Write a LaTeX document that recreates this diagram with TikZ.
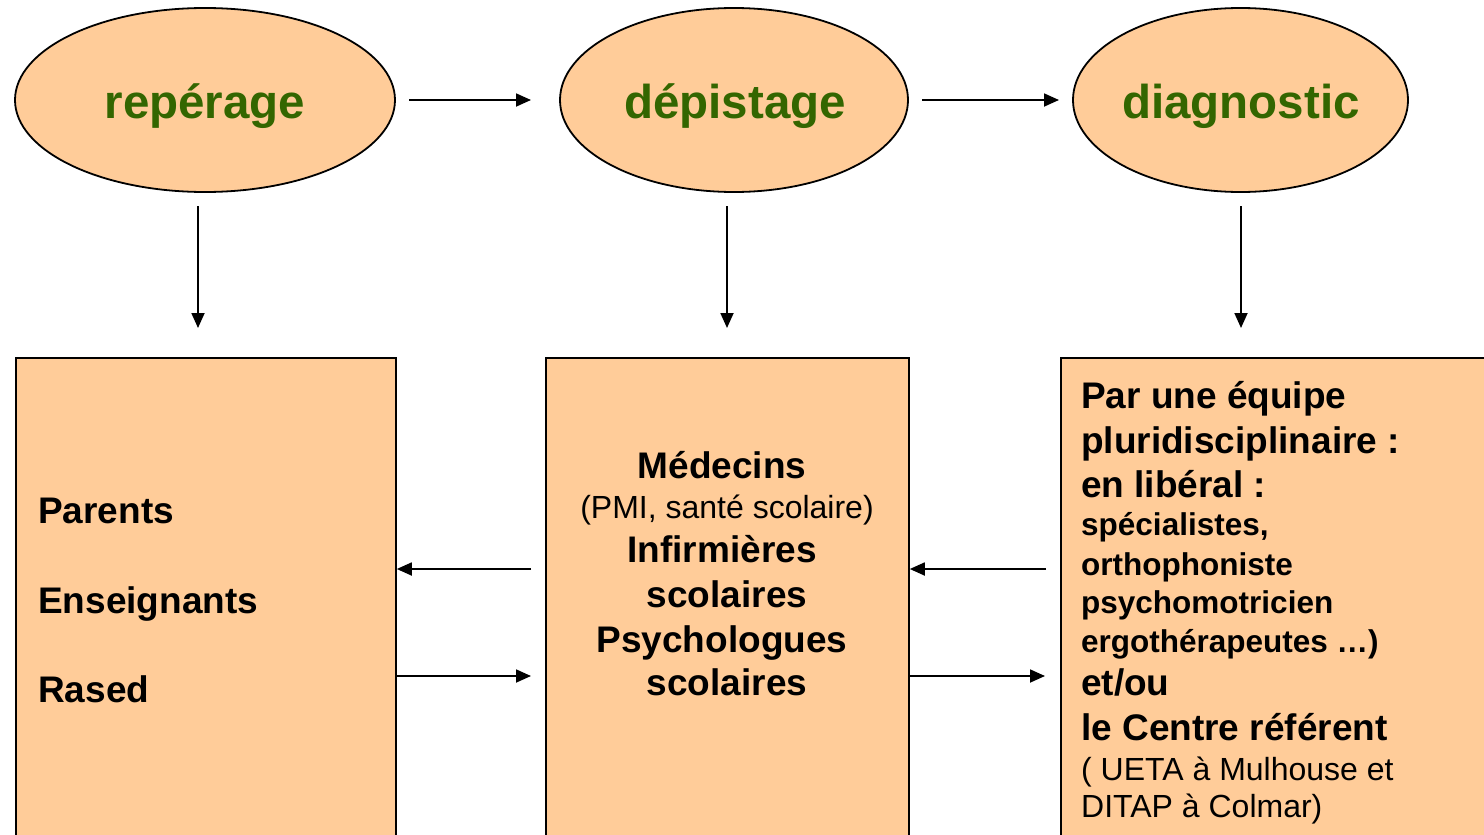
\documentclass[tikz,border=0pt]{standalone}
\usepackage{fontspec}
\setmainfont{Liberation Sans}
\usetikzlibrary{arrows.meta}
\definecolor{peach}{RGB}{255,204,153}
\definecolor{olive}{RGB}{51,102,0}
\tikzset{
  ell/.style={ellipse, draw=black, line width=1.8pt, fill=peach, inner sep=0pt},
  ellbox/.style={draw=black, line width=1.8pt, fill=peach},
  eltext/.style={inner sep=0pt, anchor=base, text=olive, font=\fontsize{47.5}{56}\selectfont\bfseries},
  big/.style={inner sep=0pt, font=\fontsize{37}{44}\selectfont\bfseries},
  small/.style={inner sep=0pt, font=\fontsize{31.5}{38}\selectfont\bfseries},
  reg/.style={inner sep=0pt, font=\fontsize{32}{38}\selectfont},
  arr/.style={line width=1.8pt, -{Triangle[length=15pt,width=13pt]}},
}
\usetikzlibrary{shapes.geometric}
\begin{document}
\begin{tikzpicture}[x=1pt,y=-1pt]
\useasboundingbox (0,0) rectangle (1484,835);
\clip (0,0) rectangle (1484,835);
% ellipses
\node[ell, minimum width=380pt, minimum height=184pt] (e1) at (205,100) {};
\node[ell, minimum width=348pt, minimum height=184pt] (e2) at (734,100) {};
\node[ell, minimum width=335pt, minimum height=184pt] (e3) at (1240.5,100) {};
\node[eltext] (t1) at (205,118) {repérage};
\node[eltext] (t2) at (735,118) {dépistage};
\node[eltext] (t3) at (1241,118) {diagnostic};
% boxes
\node[ellbox, anchor=north west, minimum width=380pt, minimum height=520pt, inner sep=0pt] (b1) at (15,357) {};
\node[ellbox, anchor=north west, minimum width=363pt, minimum height=520pt, inner sep=0pt] (b2) at (545,357) {};
\node[ellbox, anchor=north west, minimum width=460pt, minimum height=520pt, inner sep=0pt] (b3) at (1060,357) {};
% coordinates for connectors
\coordinate (h1s) at (409,100); \coordinate (h1e) at (531,100);
\coordinate (h2s) at (922,100); \coordinate (h2e) at (1059,100);
\coordinate (v1s) at (198,206); \coordinate (v1e) at (198,328);
\coordinate (v2s) at (727,206); \coordinate (v2e) at (727,328);
\coordinate (v3s) at (1241,206); \coordinate (v3e) at (1241,328);
\coordinate (m1) at (531,569); \coordinate (m2) at (1046,569);
\coordinate (m3) at (531,676); \coordinate (m4) at (1045,676);
\draw[arr] (h1s) -- (h1e);
\draw[arr] (h2s) -- (h2e);
\draw[arr] (v1s) -- (v1e);
\draw[arr] (v2s) -- (v2e);
\draw[arr] (v3s) -- (v3e);
\draw[arr] (m1) -- (b1.east |- m1);
\draw[arr] (m2) -- (b2.east |- m2);
\draw[arr] (b1.east |- m3) -- (m3);
\draw[arr] (b2.east |- m4) -- (m4);
% left box text
\node[big, anchor=base west] (l1) at (38,523) {Parents};
\node[big, anchor=base west] (l2) at (38,613) {Enseignants};
\node[big, anchor=base west] (l3) at (38,702) {Rased};
% middle box text
\node[big, anchor=base] (c1) at (722,478) {Médecins};
\node[reg, anchor=base] (c2) at (727,518) {(PMI, santé scolaire)};
\node[big, anchor=base] (c3) at (722,562) {Infirmières};
\node[big, anchor=base] (c4) at (727,607) {scolaires};
\node[big, anchor=base] (c5) at (722,652) {Psychologues};
\node[big, anchor=base] (c6) at (727,695) {scolaires};
% right box text
\node[big, anchor=base west] (r1) at (1081,408) {Par une équipe};
\node[big, anchor=base west] (r2) at (1081,453) {pluridisciplinaire :};
\node[big, anchor=base west] (r3) at (1081,497) {en libéral :};
\node[small, anchor=base west] (r4) at (1081,535) {spécialistes,};
\node[small, anchor=base west] (r5) at (1081,575) {orthophoniste};
\node[small, anchor=base west] (r6) at (1081,613) {psychomotricien};
\node[small, anchor=base west] (r7) at (1081,652) {ergothérapeutes …)};
\node[big, anchor=base west] (r8) at (1081,695) {et/ou};
\node[big, anchor=base west] (r9) at (1081,740) {le Centre référent};
\node[reg, anchor=base west] (r10) at (1081,780) {( UETA à Mulhouse et};
\node[reg, anchor=base west] (r11) at (1081,817) {DITAP à Colmar)};
\end{tikzpicture}
\end{document}
